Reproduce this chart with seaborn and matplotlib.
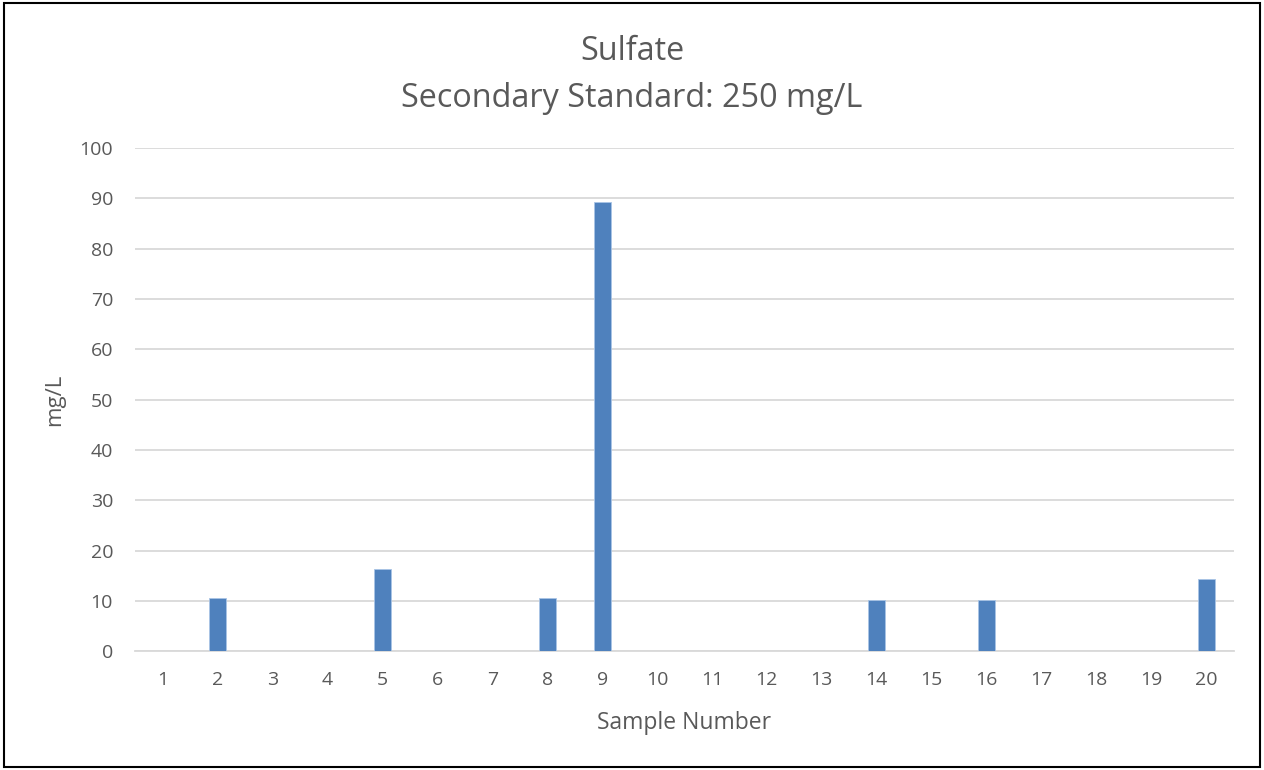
import numpy as np
import pandas as pd
import matplotlib.pyplot as plt
import seaborn as sns

# sample numbers and sulfate readings (mg/L)
samples = [str(i) for i in range(1, 21)]
sulfate = [0, 10.6, 0, 0, 16.4, 0, 0, 10.6, 89.3, 0,
           0, 0, 0, 10.2, 0, 10.2, 0, 0, 0, 14.3]
yticks = list(range(0, 101, 10))

df = pd.DataFrame({"Sample": samples, "mg/L": sulfate})

sns.set_style("white")
plt.rcParams['font.family'] = ['Open Sans', 'DejaVu Sans']
grey = "#595959"

fig = plt.figure(figsize=(12.64, 7.70), dpi=100)
ax = fig.add_axes([0.107, 0.154, 0.869, 0.654])

sns.barplot(data=df, x="Sample", y="mg/L", color="#4f81bd", width=0.31,
            saturation=1, edgecolor="#a9c4e6", linewidth=0.6, ax=ax, zorder=3)

ax.set_ylim(0, 100)
ax.set_yticks(yticks)
ax.set_xlim(-0.5, 19.5)
ax.yaxis.grid(True, color="#d9d9d9", linewidth=1.3, zorder=0)
ax.set_axisbelow(True)
for s in ["top", "right", "left"]:
    ax.spines[s].set_visible(False)
ax.spines["bottom"].set_color("#d9d9d9")
ax.spines["bottom"].set_linewidth(1.3)
ax.tick_params(axis="both", length=0, labelsize=14, colors=grey)
ax.tick_params(axis="x", pad=14)
ax.tick_params(axis="y", pad=16)

ax.set_xlabel("Sample Number", fontsize=16.5, color=grey, labelpad=16)
ax.set_ylabel("mg/L", fontsize=16, color=grey, labelpad=10)
fig.suptitle("Sulfate\nSecondary Standard: 250 mg/L", fontsize=23.3,
             color=grey, y=0.955, va="top", linespacing=1.58)

# outer border of the chart
fig.patches.append(plt.Rectangle((0.003, 0.004), 0.994, 0.992, transform=fig.transFigure,
                                 fill=False, edgecolor="black", linewidth=1.5))

fig.savefig("out.png", dpi=100)
